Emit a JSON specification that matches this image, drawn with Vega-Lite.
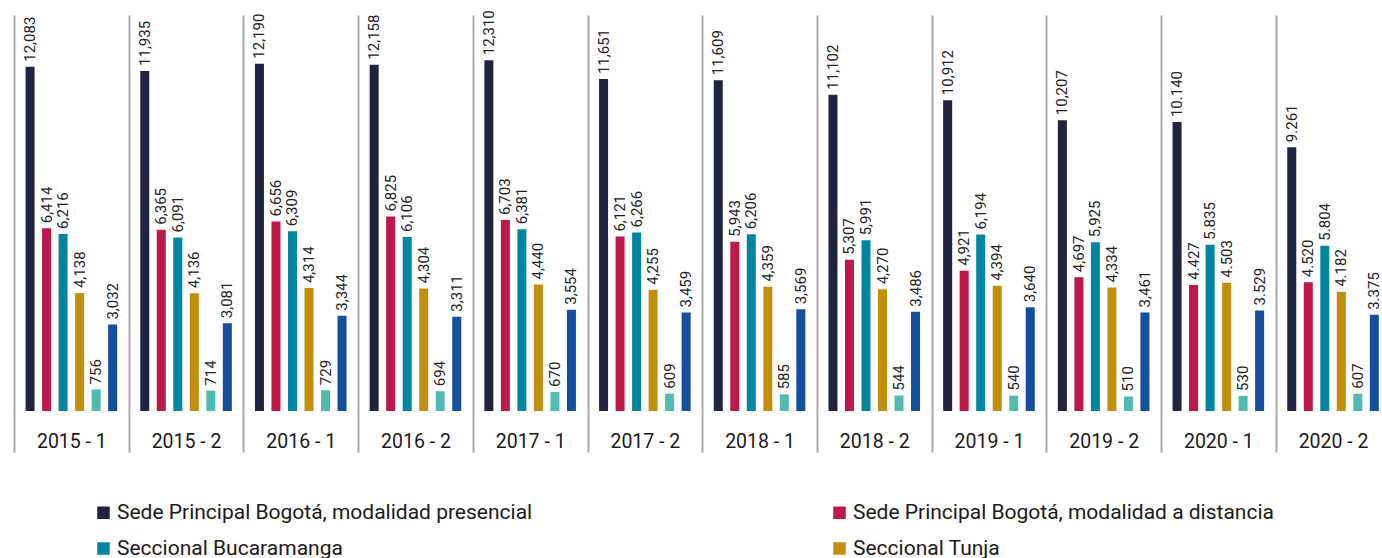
{
  "$schema": "https://vega.github.io/schema/vega-lite/v6.json",
  "width": 1368,
  "height": 396,
  "autosize": {"type": "none"},
  "padding": {"left": 14, "top": 15, "right": 0, "bottom": 147},
  "background": "white",
  "config": {"view": {"stroke": null}, "font": "Roboto"},
  "data": {
    "values": [
      {"periodo": "2015 - 1", "sede": "Sede Principal Bogotá, modalidad presencial", "valor": 12083, "label": "12,083"},
      {"periodo": "2015 - 1", "sede": "Sede Principal Bogotá, modalidad a distancia", "valor": 6414, "label": "6,414"},
      {"periodo": "2015 - 1", "sede": "Seccional Bucaramanga", "valor": 6216, "label": "6,216"},
      {"periodo": "2015 - 1", "sede": "Seccional Tunja", "valor": 4138, "label": "4,138"},
      {"periodo": "2015 - 1", "sede": "Sede Medellín", "valor": 756, "label": "756"},
      {"periodo": "2015 - 1", "sede": "Sede Villavicencio", "valor": 3032, "label": "3,032"},
      {"periodo": "2015 - 2", "sede": "Sede Principal Bogotá, modalidad presencial", "valor": 11935, "label": "11,935"},
      {"periodo": "2015 - 2", "sede": "Sede Principal Bogotá, modalidad a distancia", "valor": 6365, "label": "6,365"},
      {"periodo": "2015 - 2", "sede": "Seccional Bucaramanga", "valor": 6091, "label": "6,091"},
      {"periodo": "2015 - 2", "sede": "Seccional Tunja", "valor": 4136, "label": "4,136"},
      {"periodo": "2015 - 2", "sede": "Sede Medellín", "valor": 714, "label": "714"},
      {"periodo": "2015 - 2", "sede": "Sede Villavicencio", "valor": 3081, "label": "3,081"},
      {"periodo": "2016 - 1", "sede": "Sede Principal Bogotá, modalidad presencial", "valor": 12190, "label": "12,190"},
      {"periodo": "2016 - 1", "sede": "Sede Principal Bogotá, modalidad a distancia", "valor": 6656, "label": "6,656"},
      {"periodo": "2016 - 1", "sede": "Seccional Bucaramanga", "valor": 6309, "label": "6,309"},
      {"periodo": "2016 - 1", "sede": "Seccional Tunja", "valor": 4314, "label": "4,314"},
      {"periodo": "2016 - 1", "sede": "Sede Medellín", "valor": 729, "label": "729"},
      {"periodo": "2016 - 1", "sede": "Sede Villavicencio", "valor": 3344, "label": "3,344"},
      {"periodo": "2016 - 2", "sede": "Sede Principal Bogotá, modalidad presencial", "valor": 12158, "label": "12,158"},
      {"periodo": "2016 - 2", "sede": "Sede Principal Bogotá, modalidad a distancia", "valor": 6825, "label": "6,825"},
      {"periodo": "2016 - 2", "sede": "Seccional Bucaramanga", "valor": 6106, "label": "6,106"},
      {"periodo": "2016 - 2", "sede": "Seccional Tunja", "valor": 4304, "label": "4,304"},
      {"periodo": "2016 - 2", "sede": "Sede Medellín", "valor": 694, "label": "694"},
      {"periodo": "2016 - 2", "sede": "Sede Villavicencio", "valor": 3311, "label": "3,311"},
      {"periodo": "2017 - 1", "sede": "Sede Principal Bogotá, modalidad presencial", "valor": 12310, "label": "12,310"},
      {"periodo": "2017 - 1", "sede": "Sede Principal Bogotá, modalidad a distancia", "valor": 6703, "label": "6,703"},
      {"periodo": "2017 - 1", "sede": "Seccional Bucaramanga", "valor": 6381, "label": "6,381"},
      {"periodo": "2017 - 1", "sede": "Seccional Tunja", "valor": 4440, "label": "4,440"},
      {"periodo": "2017 - 1", "sede": "Sede Medellín", "valor": 670, "label": "670"},
      {"periodo": "2017 - 1", "sede": "Sede Villavicencio", "valor": 3554, "label": "3,554"},
      {"periodo": "2017 - 2", "sede": "Sede Principal Bogotá, modalidad presencial", "valor": 11651, "label": "11,651"},
      {"periodo": "2017 - 2", "sede": "Sede Principal Bogotá, modalidad a distancia", "valor": 6121, "label": "6,121"},
      {"periodo": "2017 - 2", "sede": "Seccional Bucaramanga", "valor": 6266, "label": "6,266"},
      {"periodo": "2017 - 2", "sede": "Seccional Tunja", "valor": 4255, "label": "4,255"},
      {"periodo": "2017 - 2", "sede": "Sede Medellín", "valor": 609, "label": "609"},
      {"periodo": "2017 - 2", "sede": "Sede Villavicencio", "valor": 3459, "label": "3,459"},
      {"periodo": "2018 - 1", "sede": "Sede Principal Bogotá, modalidad presencial", "valor": 11609, "label": "11,609"},
      {"periodo": "2018 - 1", "sede": "Sede Principal Bogotá, modalidad a distancia", "valor": 5943, "label": "5,943"},
      {"periodo": "2018 - 1", "sede": "Seccional Bucaramanga", "valor": 6206, "label": "6,206"},
      {"periodo": "2018 - 1", "sede": "Seccional Tunja", "valor": 4359, "label": "4,359"},
      {"periodo": "2018 - 1", "sede": "Sede Medellín", "valor": 585, "label": "585"},
      {"periodo": "2018 - 1", "sede": "Sede Villavicencio", "valor": 3569, "label": "3,569"},
      {"periodo": "2018 - 2", "sede": "Sede Principal Bogotá, modalidad presencial", "valor": 11102, "label": "11,102"},
      {"periodo": "2018 - 2", "sede": "Sede Principal Bogotá, modalidad a distancia", "valor": 5307, "label": "5,307"},
      {"periodo": "2018 - 2", "sede": "Seccional Bucaramanga", "valor": 5991, "label": "5,991"},
      {"periodo": "2018 - 2", "sede": "Seccional Tunja", "valor": 4270, "label": "4,270"},
      {"periodo": "2018 - 2", "sede": "Sede Medellín", "valor": 544, "label": "544"},
      {"periodo": "2018 - 2", "sede": "Sede Villavicencio", "valor": 3486, "label": "3,486"},
      {"periodo": "2019 - 1", "sede": "Sede Principal Bogotá, modalidad presencial", "valor": 10912, "label": "10,912"},
      {"periodo": "2019 - 1", "sede": "Sede Principal Bogotá, modalidad a distancia", "valor": 4921, "label": "4,921"},
      {"periodo": "2019 - 1", "sede": "Seccional Bucaramanga", "valor": 6194, "label": "6,194"},
      {"periodo": "2019 - 1", "sede": "Seccional Tunja", "valor": 4394, "label": "4,394"},
      {"periodo": "2019 - 1", "sede": "Sede Medellín", "valor": 540, "label": "540"},
      {"periodo": "2019 - 1", "sede": "Sede Villavicencio", "valor": 3640, "label": "3,640"},
      {"periodo": "2019 - 2", "sede": "Sede Principal Bogotá, modalidad presencial", "valor": 10207, "label": "10,207"},
      {"periodo": "2019 - 2", "sede": "Sede Principal Bogotá, modalidad a distancia", "valor": 4697, "label": "4,697"},
      {"periodo": "2019 - 2", "sede": "Seccional Bucaramanga", "valor": 5925, "label": "5,925"},
      {"periodo": "2019 - 2", "sede": "Seccional Tunja", "valor": 4334, "label": "4,334"},
      {"periodo": "2019 - 2", "sede": "Sede Medellín", "valor": 510, "label": "510"},
      {"periodo": "2019 - 2", "sede": "Sede Villavicencio", "valor": 3461, "label": "3,461"},
      {"periodo": "2020 - 1", "sede": "Sede Principal Bogotá, modalidad presencial", "valor": 10140, "label": "10.140"},
      {"periodo": "2020 - 1", "sede": "Sede Principal Bogotá, modalidad a distancia", "valor": 4427, "label": "4.427"},
      {"periodo": "2020 - 1", "sede": "Seccional Bucaramanga", "valor": 5835, "label": "5.835"},
      {"periodo": "2020 - 1", "sede": "Seccional Tunja", "valor": 4503, "label": "4.503"},
      {"periodo": "2020 - 1", "sede": "Sede Medellín", "valor": 530, "label": "530"},
      {"periodo": "2020 - 1", "sede": "Sede Villavicencio", "valor": 3529, "label": "3.529"},
      {"periodo": "2020 - 2", "sede": "Sede Principal Bogotá, modalidad presencial", "valor": 9261, "label": "9.261"},
      {"periodo": "2020 - 2", "sede": "Sede Principal Bogotá, modalidad a distancia", "valor": 4520, "label": "4.520"},
      {"periodo": "2020 - 2", "sede": "Seccional Bucaramanga", "valor": 5804, "label": "5.804"},
      {"periodo": "2020 - 2", "sede": "Seccional Tunja", "valor": 4182, "label": "4.182"},
      {"periodo": "2020 - 2", "sede": "Sede Medellín", "valor": 607, "label": "607"},
      {"periodo": "2020 - 2", "sede": "Sede Villavicencio", "valor": 3375, "label": "3.375"}
    ]
  },
  "encoding": {
    "x": {
      "field": "periodo",
      "type": "nominal",
      "sort": null,
      "scale": {"range": [0, 1376.4], "paddingInner": 0, "paddingOuter": 0},
      "axis": {
        "title": null,
        "domain": false,
        "grid": true,
        "gridColor": "#ababab",
        "gridWidth": 2,
        "gridOpacity": 1,
        "tickBand": "extent",
        "ticks": true,
        "tickColor": "#ababab",
        "tickWidth": 2,
        "tickSize": 41,
        "labelAngle": 0,
        "labelFont": "Roboto",
        "labelFontSize": 19.5,
        "labelColor": "#1a1a1a",
        "labelBaseline": "alphabetic",
        "labelPadding": -5
      }
    },
    "xOffset": {
      "field": "sede",
      "type": "nominal",
      "sort": null,
      "scale": {"paddingInner": 0.4545, "paddingOuter": 0.7}
    },
    "y": {
      "field": "valor",
      "type": "quantitative",
      "scale": {"domain": [0, 13900], "nice": false},
      "axis": null
    }
  },
  "layer": [
    {
      "mark": {"type": "bar"},
      "encoding": {
        "color": {
          "field": "sede",
          "type": "nominal",
          "scale": {
            "domain": [
              "Sede Principal Bogotá, modalidad presencial",
              "Sede Principal Bogotá, modalidad a distancia",
              "Seccional Bucaramanga",
              "Seccional Tunja",
              "Sede Medellín",
              "Sede Villavicencio"
            ],
            "range": ["#1e2340", "#bd1849", "#0085a1", "#c28f0d", "#52bbb1", "#134f9e"]
          },
          "legend": {
            "orient": "none",
            "legendX": 79,
            "legendY": 487,
            "columns": 2,
            "columnPadding": 296,
            "rowPadding": 14,
            "title": null,
            "values": [
              "Sede Principal Bogotá, modalidad presencial",
              "Seccional Bucaramanga",
              "Sede Medellín",
              "Sede Principal Bogotá, modalidad a distancia",
              "Seccional Tunja",
              "Sede Villavicencio"
            ],
            "symbolType": "square",
            "symbolSize": 156,
            "symbolStrokeWidth": 0,
            "symbolOpacity": 1,
            "labelFont": "Roboto",
            "labelFontSize": 21,
            "labelColor": "#1a1a1a",
            "labelLimit": 0,
            "labelOffset": 3
          }
        }
      }
    },
    {
      "mark": {"type": "text", "angle": 270, "align": "left", "baseline": "middle", "dx": 5, "fontSize": 15, "font": "Roboto", "color": "#222222"},
      "encoding": {"text": {"field": "label", "type": "nominal"}}
    }
  ]
}
